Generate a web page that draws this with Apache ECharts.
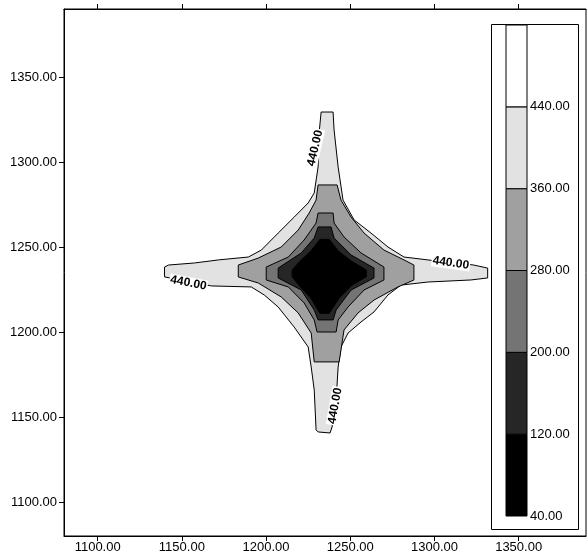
<!DOCTYPE html>
<html>
<head>
<meta charset="utf-8">
<script src="https://cdn.jsdelivr.net/npm/echarts@6/dist/echarts.min.js"></script>
<style>
html, body { margin: 0; padding: 0; background: #fff; }
#chart { width: 588px; height: 558px; }
</style>
</head>
<body>
<div id="chart"></div>
<script>
// axis ticks
var xTicks = [1100, 1150, 1200, 1250, 1300, 1350];
var yTicks = [1100, 1150, 1200, 1250, 1300, 1350];

// colour scale: band edges and labels
var levels = [40, 120, 200, 280, 360, 440, 520];
var levelLabels = [40, 120, 200, 280, 360, 440];
var bandColors = ['#000000', '#262626', '#747474', '#a0a0a0', '#e2e2e2', '#ffffff'];

// contour lines (x, y)
var contour440 = [
  [1232.7, 1329.4], [1239.8, 1329.4], [1240.4, 1318.8], [1242.8, 1297.1], [1245.7, 1277.6],
  [1252.3, 1265.9], [1262.3, 1258.2], [1272.4, 1250.0], [1281.9, 1244.1], [1296.1, 1242.4],
  [1323.3, 1239.4], [1331.6, 1237.6], [1331.6, 1231.8], [1321.6, 1230.6], [1296.1, 1229.4],
  [1280.1, 1227.6], [1272.4, 1221.8], [1264.1, 1211.8], [1256.4, 1205.9], [1248.7, 1199.4],
  [1244.5, 1191.2], [1242.8, 1179.4], [1241.6, 1160.0], [1239.2, 1144.1], [1238.0, 1140.6],
  [1230.9, 1141.2], [1229.7, 1142.4], [1228.6, 1165.9], [1226.8, 1179.4], [1225.0, 1191.2],
  [1216.7, 1202.9], [1207.2, 1214.7], [1198.9, 1221.8], [1191.2, 1226.5], [1167.5, 1227.1],
  [1139.7, 1232.4], [1139.7, 1238.2], [1142.1, 1239.4], [1157.5, 1240.6], [1171.7, 1242.4],
  [1189.5, 1244.1], [1197.2, 1248.2], [1207.2, 1258.2], [1216.7, 1267.6], [1225.0, 1275.9],
  [1228.6, 1281.8], [1230.9, 1297.1], [1231.5, 1317.1]
];
var contour360 = [
  [1230.9, 1286.5], [1242.2, 1286.5], [1244.5, 1277.6], [1250.5, 1267.6], [1258.2, 1258.2],
  [1270.0, 1248.2], [1281.9, 1242.4], [1287.8, 1239.4], [1287.8, 1230.6], [1278.3, 1226.5],
  [1264.1, 1218.8], [1254.6, 1211.2], [1246.3, 1201.2], [1243.4, 1182.4], [1228.6, 1182.4],
  [1226.8, 1199.4], [1219.1, 1211.2], [1209.0, 1220.6], [1195.4, 1228.8], [1183.5, 1232.4],
  [1183.5, 1239.4], [1195.4, 1243.5], [1209.0, 1250.0], [1219.1, 1260.0], [1225.6, 1270.0],
  [1229.7, 1277.6]
];
var contour280 = [
  [1230.9, 1270.0], [1239.8, 1270.0], [1240.4, 1264.1], [1246.3, 1255.9], [1256.4, 1246.5],
  [1270.0, 1238.2], [1270.0, 1230.6], [1258.2, 1224.7], [1248.7, 1214.7], [1242.8, 1207.1],
  [1241.6, 1200.0], [1230.3, 1200.0], [1228.6, 1207.1], [1222.6, 1217.1], [1213.2, 1226.5],
  [1200.1, 1230.6], [1200.1, 1238.2], [1213.2, 1244.1], [1222.6, 1254.1], [1229.7, 1264.1]
];
var contour200 = [
  [1230.9, 1261.8], [1238.6, 1261.8], [1240.4, 1255.3], [1250.5, 1245.3], [1264.1, 1237.6],
  [1264.1, 1231.8], [1250.5, 1224.7], [1241.6, 1212.9], [1239.8, 1207.1], [1230.9, 1207.1],
  [1228.6, 1212.9], [1220.9, 1224.7], [1207.2, 1231.8], [1207.2, 1237.6], [1220.9, 1246.5],
  [1228.6, 1255.3]
];
var contour120 = [
  [1232.0, 1254.5], [1237.5, 1254.5], [1243.0, 1247.5], [1251.0, 1241.5], [1259.5, 1236.5],
  [1259.5, 1232.5], [1251.0, 1227.5], [1243.5, 1220.0], [1237.5, 1211.0], [1232.0, 1211.0],
  [1226.5, 1220.0], [1219.5, 1227.5], [1215.5, 1232.5], [1215.5, 1236.5], [1220.0, 1241.5],
  [1226.5, 1247.5]
];

// contour labels: x, y, angle in degrees
var labelX = [1229.1, 1309.7, 1153.9, 1241.0];
var labelY = [1308.2, 1240.6, 1228.8, 1156.5];
var labelAngle = [77, -8, -11, 80];

var contours = [
  { pts: contour440, fill: bandColors[4] },
  { pts: contour360, fill: bandColors[3] },
  { pts: contour280, fill: bandColors[2] },
  { pts: contour200, fill: bandColors[1] },
  { pts: contour120, fill: bandColors[0] }
];

var bands = [];
for (var i = 0; i < levels.length - 1; i++) {
  bands.push([0, levels[i], levels[i + 1], i]);
}

var chart = echarts.init(document.getElementById('chart'));
var fontFamily = '"Liberation Sans", Arial, sans-serif';

var option = {
  backgroundColor: '#ffffff',
  animation: false,
  grid: [
    { left: 64, right: 2, top: 9, bottom: 22, show: true, borderColor: '#000', borderWidth: 1 },
    { left: 506, top: 25, width: 21, height: 491 }
  ],
  xAxis: [
    {
      type: 'value', gridIndex: 0, position: 'bottom', min: 1080, max: 1390,
      axisLine: { lineStyle: { color: '#000', width: 1 } },
      axisTick: { customValues: xTicks, length: 5, lineStyle: { color: '#000' } },
      axisLabel: {
        customValues: xTicks, margin: 5, color: '#000', fontSize: 13, fontFamily: fontFamily,
        formatter: function (v) { return v.toFixed(2); }
      },
      splitLine: { show: false }
    },
    {
      type: 'value', gridIndex: 0, position: 'top', min: 1080, max: 1390,
      axisLine: { lineStyle: { color: '#000', width: 1 } },
      axisTick: { customValues: xTicks, length: 5, lineStyle: { color: '#000' } },
      axisLabel: { show: false },
      splitLine: { show: false }
    },
    {
      type: 'category', gridIndex: 1, data: ['scale'], show: false
    }
  ],
  yAxis: [
    {
      type: 'value', gridIndex: 0, position: 'left', min: 1080, max: 1390,
      axisLine: { show: true, lineStyle: { color: '#000', width: 1 } },
      axisTick: { show: true, customValues: yTicks, length: 5, lineStyle: { color: '#000' } },
      axisLabel: {
        customValues: yTicks, margin: 7, color: '#000', fontSize: 13, fontFamily: fontFamily,
        formatter: function (v) { return v.toFixed(2); }
      },
      splitLine: { show: false }
    },
    {
      type: 'value', gridIndex: 1, position: 'right', min: 40, max: 520,
      axisLine: { show: false },
      axisTick: { show: false },
      axisLabel: {
        customValues: levelLabels, margin: 3, color: '#000', fontSize: 13, fontFamily: fontFamily,
        padding: [0, 0, 6, 0],
        formatter: function (v) { return v.toFixed(2); }
      },
      splitLine: { show: false }
    }
  ],
  graphic: [{
    type: 'rect', z: 100,
    shape: { x: 491.5, y: 24.5, width: 87, height: 505 },
    style: { fill: 'none', stroke: '#000', lineWidth: 1 }
  }],
  series: [
    {
      type: 'custom', xAxisIndex: 0, yAxisIndex: 0, clip: true,
      data: contours.map(function (c) { return c.pts[0]; }),
      renderItem: function (params, api) {
        var c = contours[params.dataIndex];
        return {
          type: 'polygon',
          shape: { points: c.pts.map(function (p) { return api.coord(p); }) },
          style: { fill: c.fill, stroke: '#000', lineWidth: 1 }
        };
      }
    },
    {
      type: 'custom', xAxisIndex: 0, yAxisIndex: 0, z: 5,
      data: labelX.map(function (x, i) { return [x, labelY[i], labelAngle[i]]; }),
      renderItem: function (params, api) {
        var p = api.coord([api.value(0), api.value(1)]);
        return {
          type: 'text', x: p[0], y: p[1],
          rotation: api.value(2) * Math.PI / 180,
          style: {
            text: '440.00', fill: '#000', align: 'center', verticalAlign: 'middle',
            font: 'bold 12px ' + fontFamily,
            backgroundColor: '#ffffff', padding: [0, 1]
          }
        };
      }
    },
    {
      type: 'custom', xAxisIndex: 2, yAxisIndex: 1,
      encode: { x: 0, y: [1, 2] },
      data: bands,
      renderItem: function (params, api) {
        var top = api.coord([0, api.value(2)]);
        var bot = api.coord([0, api.value(1)]);
        var w = api.size([1, 0])[0];
        return {
          type: 'rect',
          shape: { x: top[0] - w / 2, y: top[1], width: w, height: bot[1] - top[1] },
          style: { fill: bandColors[api.value(3)], stroke: '#000', lineWidth: 1 }
        };
      }
    }
  ]
};

chart.setOption(option);
</script>
</body>
</html>
